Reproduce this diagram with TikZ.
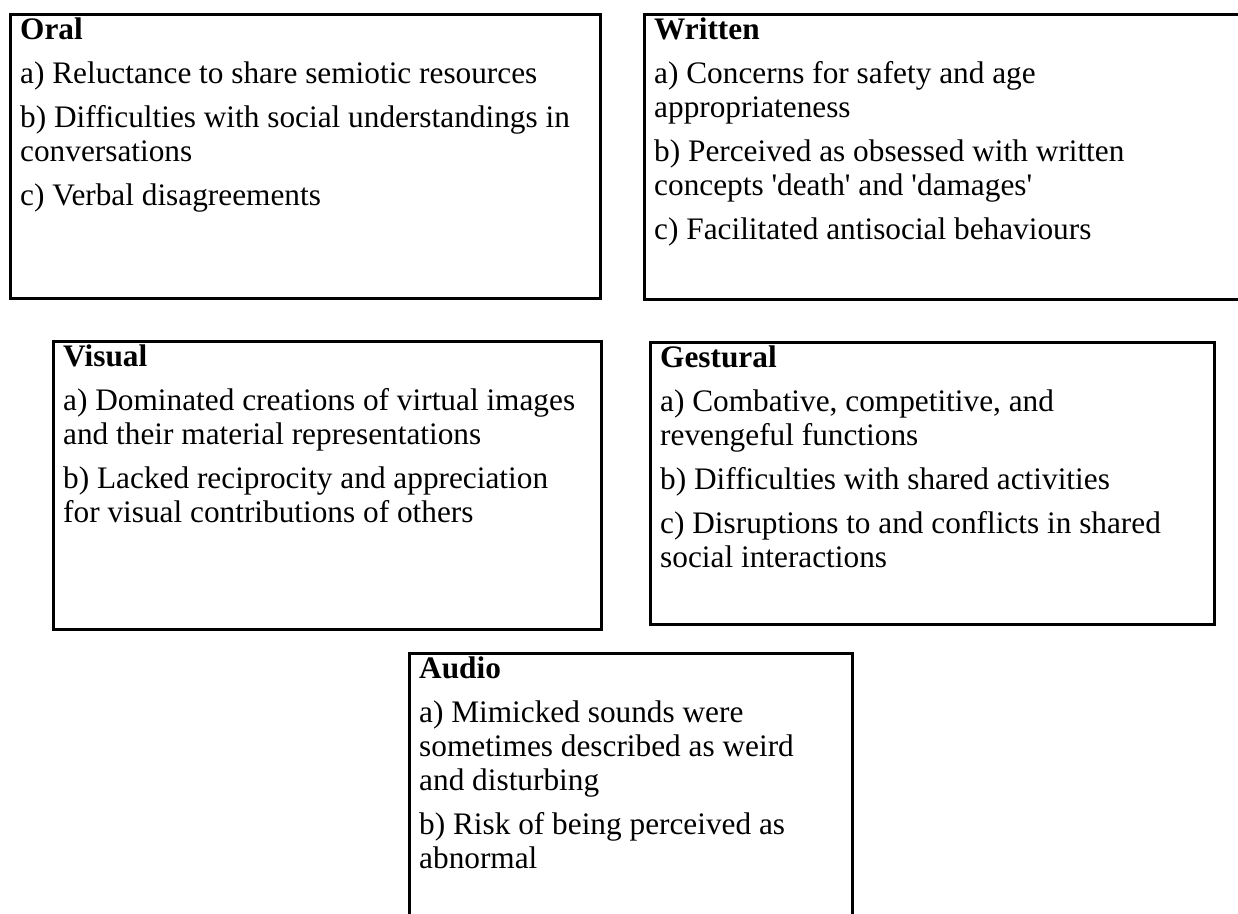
\documentclass[tikz,border=0pt]{standalone}
\usepackage{fontspec}
\setmainfont{Liberation Serif}[Ligatures=TeXOff]
\usetikzlibrary{calc}
\newcommand\boxtitle[1]{\rule{0pt}{22pt}\textbf{#1}}
\begin{document}
\begin{tikzpicture}[x=1pt,y=-1pt,
  frame/.style={draw=black, line width=2.6pt, inner sep=0pt, anchor=north west},
  txt/.style={anchor=north west, inner sep=0pt, align=left, font=\fontsize{31.3}{34}\selectfont},
]
\clip (0,0) rectangle (1238,913);
% boxes
\node[frame, minimum width=590pt, minimum height=284pt] (oralbox) at (9,13) {};
\node[frame, minimum width=620pt, minimum height=285pt] (writtenbox) at (643,13) {};
\node[frame, minimum width=548pt, minimum height=288pt] (visualbox) at (52,340) {};
\node[frame, minimum width=564pt, minimum height=282pt] (gesturalbox) at (649,341) {};
\node[frame, minimum width=443pt, minimum height=300pt] (audiobox) at (408,652) {};
% texts
\node[txt] (oral) at ($(oralbox.north west)+(11,4)$) {\boxtitle{Oral}\\[10pt]
a) Reluctance to share semiotic resources\\[10pt]
b) Difficulties with social understandings in\\
conversations\\[10pt]
c) Verbal disagreements};
\node[txt] (written) at ($(writtenbox.north west)+(11,4)$) {\boxtitle{Written}\\[10pt]
a) Concerns for safety and age\\
appropriateness\\[10pt]
b) Perceived as obsessed with written\\
concepts 'death' and 'damages'\\[10pt]
c) Facilitated antisocial behaviours};
\node[txt] (visual) at ($(visualbox.north west)+(11,4)$) {\boxtitle{Visual}\\[10pt]
a) Dominated creations of virtual images\\
and their material representations\\[10pt]
b) Lacked reciprocity and appreciation\\
for visual contributions of others};
\node[txt] (gestural) at ($(gesturalbox.north west)+(11,4)$) {\boxtitle{Gestural}\\[10pt]
a) Combative, competitive, and\\
revengeful functions\\[10pt]
b) Difficulties with shared activities\\[10pt]
c) Disruptions to and conflicts in shared\\
social interactions};
\node[txt] (audio) at ($(audiobox.north west)+(11,4)$) {\boxtitle{Audio}\\[10pt]
a) Mimicked sounds were\\
sometimes described as weird\\
and disturbing\\[10pt]
b) Risk of being perceived as\\
abnormal};
\end{tikzpicture}
\end{document}
